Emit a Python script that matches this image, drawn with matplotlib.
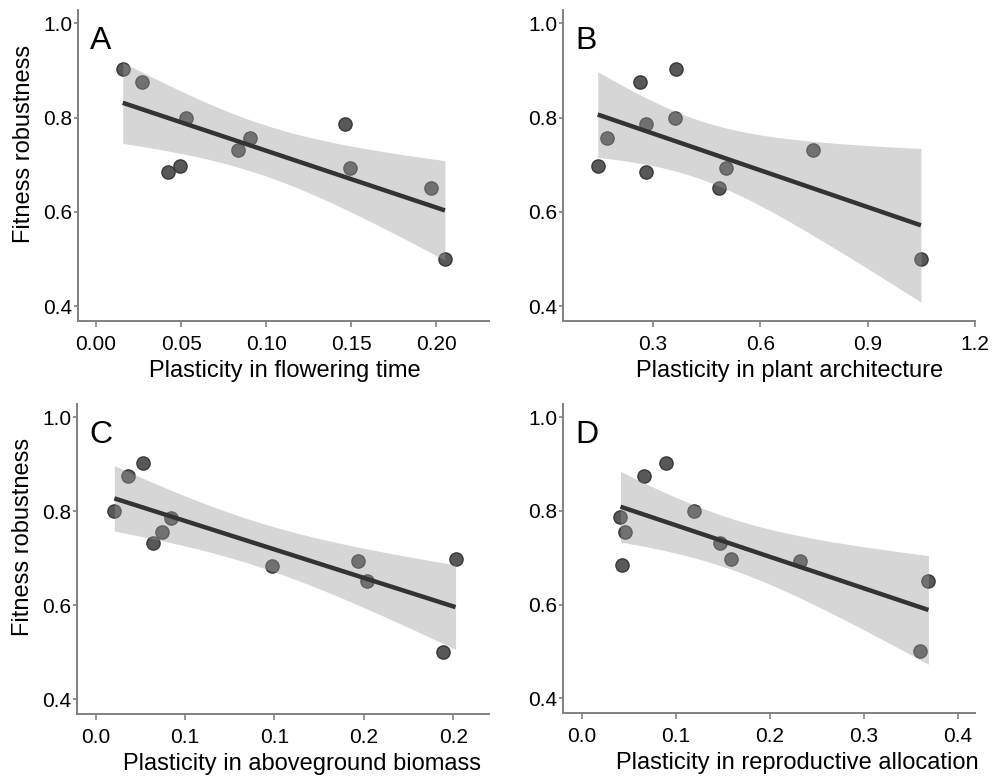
import numpy as np
import matplotlib
matplotlib.use("Agg")
import matplotlib.pyplot as plt

plt.rcParams['font.family'] = ['Liberation Sans', 'DejaVu Sans']

# fitness robustness of the 11 populations (shared y of all panels)
robustness = [0.902, 0.875, 0.800, 0.786, 0.756, 0.732, 0.698, 0.694, 0.684, 0.651, 0.501]

# plasticity of each population, same order as robustness
flowering_time = [0.0157, 0.0272, 0.0527, 0.1463, 0.0903, 0.0832, 0.0494, 0.1492, 0.0421, 0.1967, 0.2051]
plant_architecture = [0.364, 0.2645, 0.3607, 0.2795, 0.172, 0.747, 0.146, 0.505, 0.282, 0.4847, 1.049]
aboveground_biomass = [0.0265, 0.0183, 0.0105, 0.0422, 0.0373, 0.0319, 0.2013, 0.1465, 0.0985, 0.152, 0.194]
reproductive_allocation = [0.0901, 0.0667, 0.1189, 0.0412, 0.0461, 0.1466, 0.1587, 0.2322, 0.0426, 0.3685, 0.360]

panel_letters = ["A", "B", "C", "D"]
x_titles = ["Plasticity in flowering time", "Plasticity in plant architecture",
            "Plasticity in aboveground biomass", "Plasticity in reproductive allocation"]
x_ticks = [[0.0, 0.05, 0.10, 0.15, 0.20], [0.3, 0.6, 0.9, 1.2],
           [0.0, 0.05, 0.10, 0.15, 0.20], [0.0, 0.1, 0.2, 0.3, 0.4]]
x_tick_labels = [["0.00", "0.05", "0.10", "0.15", "0.20"], ["0.3", "0.6", "0.9", "1.2"],
                 ["0.0", "0.1", "0.1", "0.2", "0.2"], ["0.0", "0.1", "0.2", "0.3", "0.4"]]
y_ticks = [0.4, 0.6, 0.8, 1.0]
y_tick_labels = ["0.4", "0.6", "0.8", "1.0"]


def lm_band(x, y, n=200, t=2.262):
    # least squares line with 95% confidence band (t for 9 df)
    x = np.asarray(x, float)
    y = np.asarray(y, float)
    slope, icpt = np.polyfit(x, y, 1)
    xs = np.linspace(x.min(), x.max(), n)
    fit = icpt + slope * xs
    resid = y - (icpt + slope * x)
    s = np.sqrt(resid @ resid / (len(x) - 2))
    se = s * np.sqrt(1 / len(x) + (xs - x.mean()) ** 2 / ((x - x.mean()) ** 2).sum())
    return xs, fit, fit - t * se, fit + t * se


W, H = 999, 776
fig = plt.figure(figsize=(W / 100, H / 100), dpi=100)

# panel boxes in pixels: left, top, right, bottom
boxes = [(78, 10, 489, 321), (563, 10, 975, 321), (77, 404, 489, 714), (563, 404, 975, 713)]
xlims = [(-0.0106, 0.231), (0.049, 1.2), (-0.0104, 0.22), (-0.0199, 0.418)]
xtitle_pos = [0.504, 0.551, 0.546, 0.569]
xvals = [flowering_time, plant_architecture, aboveground_biomass, reproductive_allocation]

spine_col = "#808080"
for i, (l, t, r, b) in enumerate(boxes):
    ax = fig.add_axes([l / W, 1 - b / H, (r - l) / W, (b - t) / H])
    x = xvals[i]
    ax.scatter(x, robustness, s=90, color="#585858", edgecolor="#383838", linewidth=1.0, zorder=2)
    xs, fit, lo, hi = lm_band(x, robustness)
    ax.fill_between(xs, lo, hi, color="#999999", alpha=0.4, linewidth=0, zorder=3)
    ax.plot(xs, fit, color="#333333", lw=3.2, solid_capstyle="butt", zorder=4)

    ax.set_xlim(*xlims[i])
    ax.set_ylim(0.369, 1.028)
    ax.set_xticks(x_ticks[i])
    ax.set_xticklabels(x_tick_labels[i])
    ax.set_yticks(y_ticks)
    ax.set_yticklabels(y_tick_labels)
    for side in ["top", "right"]:
        ax.spines[side].set_visible(False)
    for side in ["left", "bottom"]:
        ax.spines[side].set_color(spine_col)
        ax.spines[side].set_linewidth(1.4)
    ax.tick_params(axis="x", length=4, width=1.2, color=spine_col, labelsize=15, pad=6, labelcolor="black")
    ax.tick_params(axis="y", length=3, width=1.2, color=spine_col, labelsize=15, pad=1, labelcolor="black")

    ax.set_xlabel(x_titles[i], fontsize=17)
    ax.xaxis.set_label_coords(xtitle_pos[i], -0.125)
    if i in (0, 2):
        ax.set_ylabel("Fitness robustness", fontsize=17)
        ax.yaxis.set_label_coords(-0.105, 0.57)
    ax.text(0.03, 0.948, panel_letters[i], transform=ax.transAxes, fontsize=23,
            ha="left", va="top")

fig.savefig("out.png", dpi=100)
